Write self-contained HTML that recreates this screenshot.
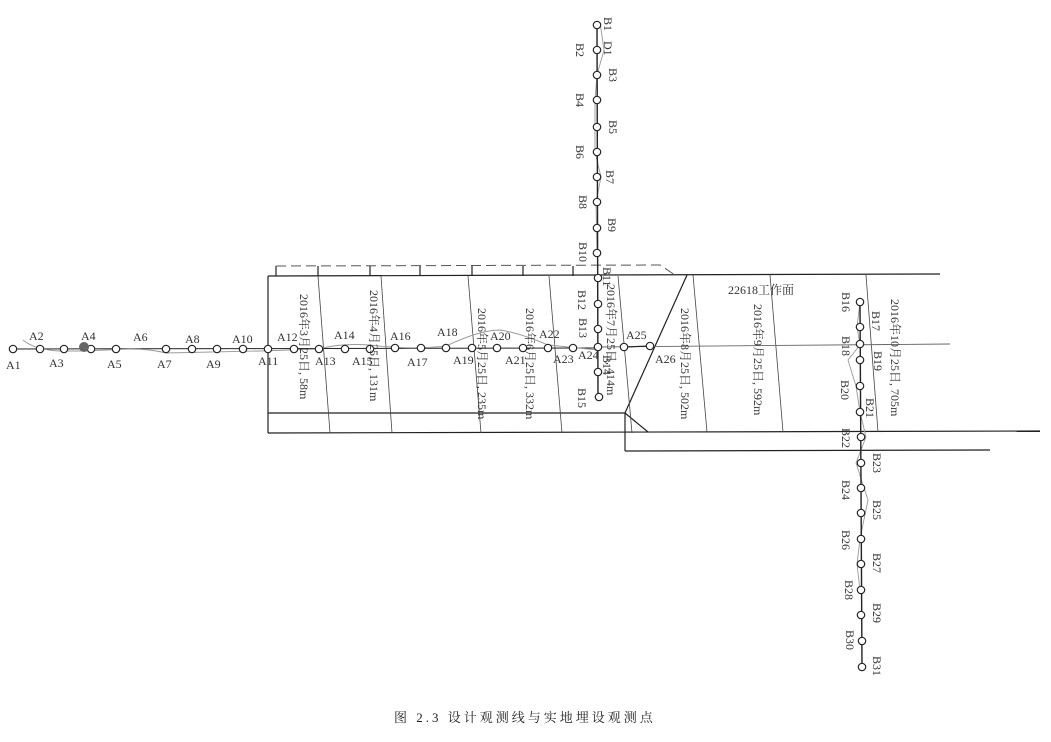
<!DOCTYPE html>
<html><head><meta charset="utf-8"><style>
html,body{margin:0;padding:0;background:#fff;}
svg{display:block;}
text{font-family:"Liberation Serif","Noto Serif CJK SC",serif;fill:#333;font-size:12px;}
.r{font-size:12px;}
</style></head><body>
<svg width="1051" height="742" viewBox="0 0 1051 742" xmlns="http://www.w3.org/2000/svg">
<g fill="none" stroke="#222" stroke-width="1.2">
<line x1="268" y1="276" x2="940" y2="274"/>
<line x1="268" y1="276" x2="268" y2="433"/>
<line x1="268" y1="413" x2="625" y2="413"/>
<line x1="268" y1="433" x2="1040" y2="431"/>
<line x1="625" y1="451" x2="990" y2="450"/>
<line x1="625" y1="413" x2="625" y2="451"/>
<line x1="687" y1="275" x2="625" y2="413"/>
<line x1="625" y1="413" x2="648" y2="432"/>
<line x1="276" y1="266" x2="276" y2="276"/>
<line x1="318" y1="266" x2="318" y2="276"/>
<line x1="370" y1="266" x2="370" y2="276"/>
<line x1="420" y1="266" x2="420" y2="276"/>
<line x1="472" y1="266" x2="472" y2="276"/>
<line x1="523" y1="266" x2="523" y2="276"/>
<line x1="573" y1="266" x2="573" y2="276"/>
</g>
<path d="M276 266 L660 265 L675 275" fill="none" stroke="#555" stroke-width="1" stroke-dasharray="10,5"/>
<g stroke="#444" stroke-width="0.8">
<line x1="318" y1="276" x2="330" y2="433"/>
<line x1="381" y1="276" x2="392" y2="433"/>
<line x1="468" y1="276" x2="481" y2="433"/>
<line x1="549" y1="276" x2="562" y2="433"/>
<line x1="618" y1="276" x2="632" y2="433"/>
<line x1="693" y1="275" x2="707" y2="432"/>
<line x1="770" y1="275" x2="783" y2="432"/>
<line x1="866" y1="275" x2="878" y2="432"/>
</g>
<line x1="13" y1="349" x2="598" y2="348" stroke="#222" stroke-width="1"/>
<line x1="598" y1="347" x2="950" y2="344" stroke="#666" stroke-width="0.9"/>
<line x1="624" y1="347" x2="650" y2="346" stroke="#222" stroke-width="1.2"/>
<path d="M23 340 Q35 350 60 351 L84 351 L130 349 Q150 349 166 353 L260 351 L319 349 Q340 343 370 345 Q410 350 446 346 Q480 330 500 330 Q520 333 548 345 L598 350" fill="none" stroke="#999" stroke-width="0.9"/>
<path d="M600 22 L604 50 L597 75 L595 100 L595 152 L601 177 L596 202 L597 253" fill="none" stroke="#999" stroke-width="0.9"/>
<path d="M860 302 L857 327 L860 345 L848 360 L856 386 L860 412 L866 437 L856 463 L868 500 L860 539 L857 564 L860 590" fill="none" stroke="#999" stroke-width="0.9"/>
<line x1="597" y1="25" x2="598" y2="398" stroke="#222" stroke-width="1.4"/>
<line x1="860" y1="302" x2="862" y2="667" stroke="#222" stroke-width="1.4"/>
<g fill="#fff" stroke="#222" stroke-width="1.2">
<circle cx="13" cy="349" r="3.7"/><circle cx="40" cy="349" r="3.7"/><circle cx="64" cy="349" r="3.7"/>
<circle cx="91" cy="349" r="3.7"/><circle cx="116" cy="349" r="3.7"/><circle cx="166" cy="349" r="3.7"/>
<circle cx="192" cy="349" r="3.7"/><circle cx="217" cy="349" r="3.7"/><circle cx="243" cy="349" r="3.7"/>
<circle cx="268" cy="349" r="3.7"/><circle cx="294" cy="349" r="3.7"/><circle cx="319" cy="349" r="3.7"/>
<circle cx="345" cy="349" r="3.7"/><circle cx="370" cy="349" r="3.7"/><circle cx="395" cy="348" r="3.7"/>
<circle cx="421" cy="348" r="3.7"/><circle cx="446" cy="348" r="3.7"/><circle cx="472" cy="348" r="3.7"/>
<circle cx="497" cy="348" r="3.7"/><circle cx="523" cy="348" r="3.7"/><circle cx="548" cy="348" r="3.7"/>
<circle cx="573" cy="348" r="3.7"/><circle cx="598" cy="347" r="3.7"/><circle cx="624" cy="347" r="3.7"/>
<circle cx="650" cy="346" r="3.7"/>
<circle cx="597" cy="25" r="3.7"/><circle cx="597" cy="50" r="3.7"/><circle cx="597" cy="75" r="3.7"/>
<circle cx="597" cy="100" r="3.7"/><circle cx="597" cy="127" r="3.7"/><circle cx="597" cy="152" r="3.7"/>
<circle cx="597" cy="177" r="3.7"/><circle cx="597" cy="202" r="3.7"/><circle cx="597" cy="228" r="3.7"/>
<circle cx="597" cy="253" r="3.7"/><circle cx="598" cy="278" r="3.7"/><circle cx="598" cy="304" r="3.7"/>
<circle cx="598" cy="329" r="3.7"/><circle cx="598" cy="372" r="3.7"/><circle cx="599" cy="397" r="3.7"/>
<circle cx="860" cy="302" r="3.7"/><circle cx="860" cy="327" r="3.7"/><circle cx="860" cy="344" r="3.7"/>
<circle cx="860" cy="360" r="3.7"/><circle cx="860" cy="386" r="3.7"/><circle cx="860" cy="412" r="3.7"/>
<circle cx="861" cy="437" r="3.7"/><circle cx="861" cy="463" r="3.7"/><circle cx="861" cy="488" r="3.7"/>
<circle cx="861" cy="513" r="3.7"/><circle cx="861" cy="539" r="3.7"/><circle cx="861" cy="564" r="3.7"/>
<circle cx="861" cy="590" r="3.7"/><circle cx="861" cy="615" r="3.7"/><circle cx="862" cy="641" r="3.7"/>
<circle cx="862" cy="667" r="3.7"/>
</g>
<circle cx="84" cy="347" r="5" fill="#666"/>
<g>
<text x="6" y="369">A1</text><text x="29" y="340">A2</text><text x="49" y="367">A3</text>
<text x="81" y="340">A4</text><text x="107" y="368">A5</text><text x="133" y="341">A6</text>
<text x="157" y="368">A7</text><text x="185" y="343">A8</text><text x="206" y="368">A9</text>
<text x="232" y="343">A10</text><text x="258" y="365">A11</text><text x="277" y="341">A12</text>
<text x="315" y="365">A13</text><text x="334" y="339">A14</text><text x="352" y="365">A15</text>
<text x="390" y="340">A16</text><text x="407" y="366">A17</text><text x="437" y="336">A18</text>
<text x="453" y="364">A19</text><text x="490" y="340">A20</text><text x="505" y="364">A21</text>
<text x="539" y="338">A22</text><text x="553" y="363">A23</text><text x="578" y="359">A24</text>
<text x="626" y="339">A25</text><text x="655" y="363">A26</text>
<text x="728" y="294">22618工作面</text>
</g>
<g class="r">
<text transform="translate(604,17) rotate(90)">B1</text>
<text transform="translate(604,41) rotate(90)">D1</text>
<text transform="translate(576,43) rotate(90)">B2</text>
<text transform="translate(609,68) rotate(90)">B3</text>
<text transform="translate(576,93) rotate(90)">B4</text>
<text transform="translate(609,120) rotate(90)">B5</text>
<text transform="translate(576,145) rotate(90)">B6</text>
<text transform="translate(606,170) rotate(90)">B7</text>
<text transform="translate(579,195) rotate(90)">B8</text>
<text transform="translate(608,218) rotate(90)">B9</text>
<text transform="translate(579,242) rotate(90)">B10</text>
<text transform="translate(603,267) rotate(90)">B11</text>
<text transform="translate(578,290) rotate(90)">B12</text>
<text transform="translate(579,318) rotate(90)">B13</text>
<text transform="translate(603,355) rotate(90)">B14</text>
<text transform="translate(578,388) rotate(90)">B15</text>
<text transform="translate(842,292) rotate(90)">B16</text>
<text transform="translate(872,311) rotate(90)">B17</text>
<text transform="translate(842,336) rotate(90)">B18</text>
<text transform="translate(874,351) rotate(90)">B19</text>
<text transform="translate(841,380) rotate(90)">B20</text>
<text transform="translate(866,398) rotate(90)">B21</text>
<text transform="translate(842,428) rotate(90)">B22</text>
<text transform="translate(873,453) rotate(90)">B23</text>
<text transform="translate(842,480) rotate(90)">B24</text>
<text transform="translate(873,500) rotate(90)">B25</text>
<text transform="translate(842,530) rotate(90)">B26</text>
<text transform="translate(873,553) rotate(90)">B27</text>
<text transform="translate(845,580) rotate(90)">B28</text>
<text transform="translate(873,603) rotate(90)">B29</text>
<text transform="translate(846,630) rotate(90)">B30</text>
<text transform="translate(873,656) rotate(90)">B31</text>
</g>
<g class="r">
<text transform="translate(300,294) rotate(90)">2016年3月25日, 58m</text>
<text transform="translate(370,290) rotate(90)">2016年4月25日, 131m</text>
<text transform="translate(478,308) rotate(90)">2016年5月25日, 235m</text>
<text transform="translate(526,308) rotate(90)">2016年6月25日, 332m</text>
<text transform="translate(607,284) rotate(90)">2016年7月25日, 414m</text>
<text transform="translate(681,308) rotate(90)">2016年8月25日, 502m</text>
<text transform="translate(754,304) rotate(90)">2016年9月25日, 592m</text>
<text transform="translate(891,299) rotate(90)">2016年10月25日, 705m</text>
</g>
<text x="394" y="722" style="font-size:13px;letter-spacing:3px;fill:#222">图 2.3  设计观测线与实地埋设观测点</text>
</svg>
</body></html>
